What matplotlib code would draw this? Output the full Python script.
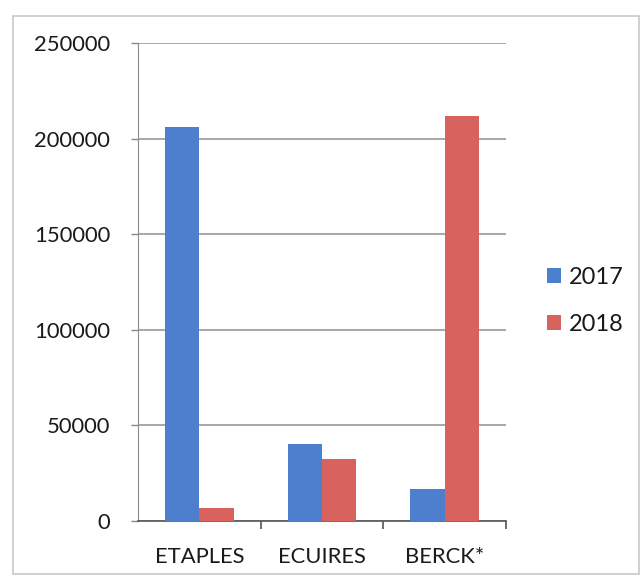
import numpy as np
import matplotlib.pyplot as plt
from matplotlib.patches import Rectangle

categories = ["ETAPLES", "ECUIRES", "BERCK*"]
years = ["2017", "2018"]
values_2017 = [206000, 40000, 16500]
values_2018 = [6800, 32500, 212000]

colors = ["#4E7FCF", "#D8625E"]

plt.rcParams["font.family"] = ["Lato", "DejaVu Sans"]

fig = plt.figure(figsize=(6.44, 5.8), dpi=100)
ax = fig.add_axes([0.2143, 0.102, 0.5714, 0.824])

# light frame around the whole chart, like the Excel chart area
fig.patches.append(Rectangle((0.02, 0.01), 0.973, 0.963, transform=fig.transFigure,
                             fill=False, edgecolor="#c8c8c8", linewidth=1.2))

x = np.arange(len(categories))
width = 0.28
ax.bar(x - width / 2, values_2017, width, color=colors[0], label=years[0], zorder=3)
ax.bar(x + width / 2, values_2018, width, color=colors[1], label=years[1], zorder=3)

ax.set_xlim(-0.5, len(categories) - 0.5)
ax.set_ylim(0, 250000)
ax.set_yticks(np.arange(0, 250001, 50000))
ax.yaxis.grid(True, color="#9a9a9a", linewidth=1.2, zorder=0)

ax.set_xticks(x)
ax.set_xticklabels(categories)
ax.set_xticks(np.arange(0.5, len(categories), 1), minor=True)
ax.tick_params(axis="x", which="major", length=0, pad=19, labelsize=15.8, colors="#1a1a1a")
ax.tick_params(axis="x", which="minor", length=6, width=1.2, color="#555555", direction="out")
ax.tick_params(axis="y", length=5, width=1, color="#888888", labelsize=15.8, pad=15,
               labelcolor="#1a1a1a")

for side in ["top", "right"]:
    ax.spines[side].set_visible(False)
ax.spines["left"].set_color("#8c8c8c")
ax.spines["bottom"].set_color("#555555")
ax.spines["bottom"].set_linewidth(1.2)

leg = ax.legend(loc="center left", bbox_to_anchor=(1.111, 0.46), frameon=False, fontsize=17,
                borderpad=0, borderaxespad=0, handlelength=0.6, handleheight=0.6,
                handletextpad=0.33, labelspacing=1.1)
for txt in leg.get_texts():
    txt.set_color("#1a1a1a")

fig.savefig("out.png", dpi=100)
